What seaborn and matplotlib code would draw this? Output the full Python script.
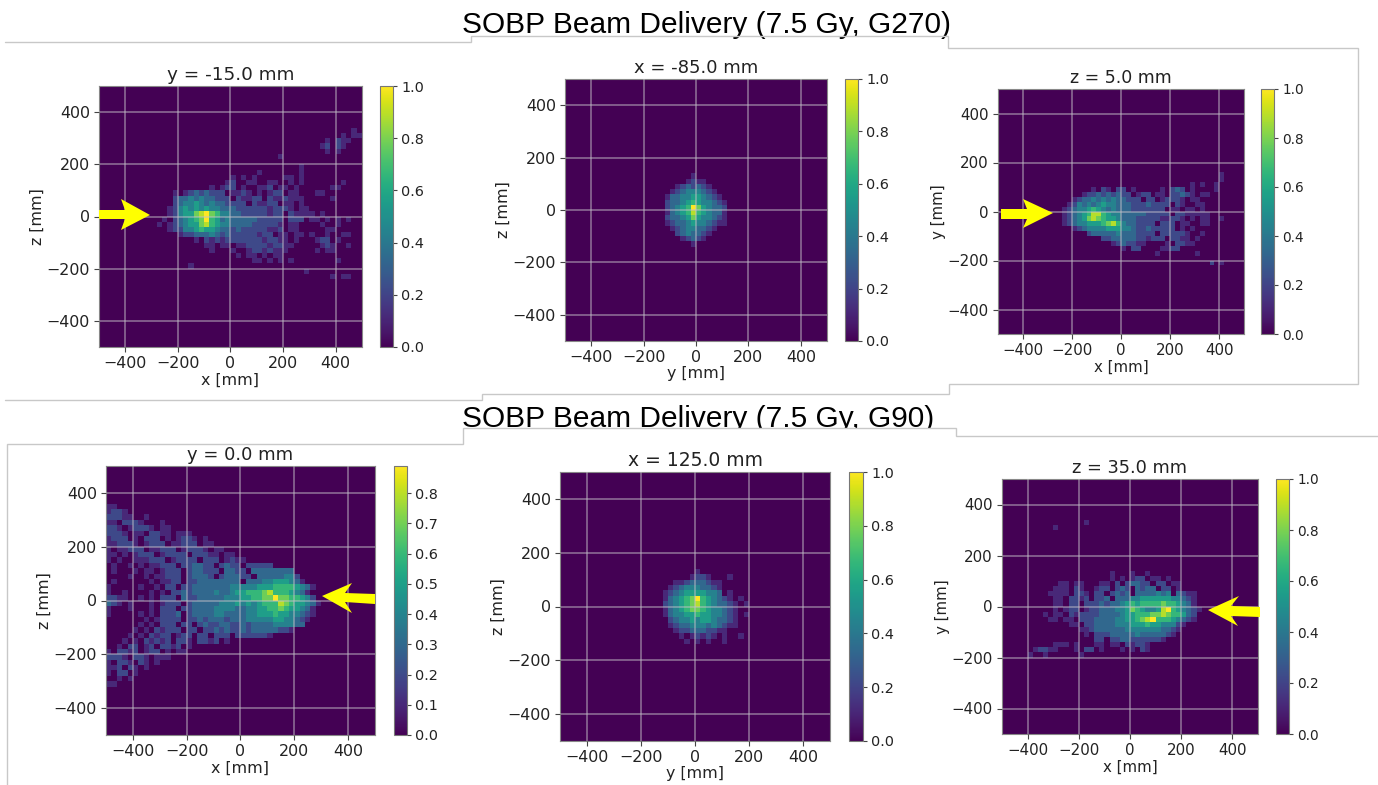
#!/usr/bin/env python3
import matplotlib
matplotlib.use("Agg")
import matplotlib.pyplot as plt
import numpy as np
import seaborn as sns
from matplotlib.patches import Polygon, Rectangle

W, H = 1378, 785
TICKS = [-400, -200, 0, 200, 400]
N_BINS = 50

# each row is one band of 20 mm from the top row downward, digit 0-9 is dose / 9, '.' is none
G270_Y_TOP = 8
G270_Y = [
    "................................................1",
    "..............................................1.11",
    "...........................................1.211",
    "..........................................12.21",
    "...........................................1.1",
    "..................................1",
    "",
    "......................................1",
    "..............................1.......1",
    ".........................1.1.1.....11.1",
    "........................12..11..11..1.1.......1",
    ".....................1.122.1..112.11.1......11",
    "..............1.12323222.1121.1.122.11...11",
    "..............23343433222.21122.2112111.....1",
    "..............23445434332222.21122.11.1",
    ".............124545454433322222212221.11",
    ".............1245578976443322222122.21111.1",
    "............1.234567965343333322222.222.11.1.1.1",
    "...........1.1234557865443333222221.11....1..1",
    ".............1224456554332322222112.11.....11",
    "...............122333432322222122.11.11.1..1..11",
    "..................1.2121222222212211.1...122.1",
    "....................11.11.11222212211.....121..1",
    ".....................1...1..12212111.....1.11",
    "..........................1.11.1.11",
    ".............................11.1.1.1........1",
    ".................1",
    ".......................................1",
    "............................................1.11",
]

G270_X_TOP = 18
G270_X = [
    "........................1",
    ".......................1211",
    ".....................1232321",
    "....................123444321",
    "...................13344554321",
    "...................233456544321",
    "...................234569754332",
    "...................134568654331",
    "...................233457544321",
    "...................123345443211",
    "....................123443321",
    ".....................2343321",
    "......................12321",
    "........................1",
]

G270_Z_TOP = 17
G270_Z = [
    ".............................................1",
    ".............................................1",
    ".......................................1.1..1",
    "...................1.21.22.1.....1.232.1....1",
    ".................1223232322.122.11.22321.11",
    "...............12334343433222.22.12221.11",
    "..............124343454433322232222.21..11",
    ".............123445654343332222222.11.11.1",
    ".............1234568865443333322222.2211111",
    ".............1234578765543332222211221.1.11..1",
    ".............1234455567864332222.222.11..11",
    "...............123444455544322322222.1.1",
    "..................23333343332222.222221..1",
    ".....................2233333221222.2211.1",
    ".......................1232211....1.2211",
    ".........................1.22....1122",
    "................................1.......1",
    "",
    "...........................................2.1",
]

G90_Y_TOP = 7
G90_Y = [
    "11",
    "1221",
    "22211..1",
    "11.2221...1",
    "221.12221.11",
    "2221.11.2211.111",
    "1222.1.222.1.1221.1",
    "112221.1222.11222.11",
    "1.11222.11222.12221.11",
    "11.1.1222.12222.22211.11",
    "1.1..111222.12222.222.1211",
    ".1..1.1.11222.223322.2322.22222",
    ".1...1.11.1222.233222.3322.33333333",
    "....1..1.11222.23332.233322.33333442",
    ".1......1.1122.2233333333.33344555431",
    "1.....1..1.22.2233333334444455566665431",
    "1..1....1.1.22323333433455666786665431",
    "2211..1.1.222.3223333344455667797766542",
    "321.1...1.1222.2333334445454566687655431",
    "1...1...1.222.2233334444334455667655431",
    "1.....1.1.2223.233334433334455565544321",
    ".......1.12222.22323332333444445544321",
    "......1.1.222.22.23223322323333444433",
    ".....1.1.21222.22.22323223233333221",
    "....1.1.2122.122.22.222.2222221",
    "...1.1.21212.221.2212.1",
    "..1.22.12.2212.1",
    "1.2212.122.1.11",
    "2221.221.111",
    "1.221.21.1",
    "112.21.1",
    "1.22.1",
    "..1.1",
    "11",
]

G90_X_TOP = 18
G90_X = [
    ".........................1",
    "........................1221...1",
    ".....................112333211",
    "....................1234443321",
    "...................12345555443.1",
    "...................1345679654321.1",
    "...................23456786543321.1",
    "...................13456776544321",
    "...................13445565544321.1",
    "....................2344545543321",
    "....................1233444343211",
    ".....................1223332211",
    "......................1.12121.1..1",
    ".......................1.1.1..1",
]

G90_Z_TOP = 8
G90_Z = [
    "................1",
    "..........1",
    "", "", "", "", "", "", "", "",
    ".....................1...1..1",
    ".....................1.1.122.11.1",
    "...........11.11...11.2.23322.22.11",
    "..........111.21..122.232.3233.22.1",
    ".........1111.221.22.2323.3333434.3211",
    "..........11.2212.223.3334455555544321",
    "..........11.22.2223233456566667665431",
    "..........1.122.12233344576544589654321",
    "........1.11.2122223333455666778766532",
    ".........11.11.22233334455678966654321",
    ".............11.22333344455565544421",
    "...............11233333344444443321",
    "................1.2223333343333321",
    "..................22.22332222221",
    "..........111.1...11.11.21221",
    "......12211...1.22.1...1.1.21",
    ".....1..1......1",
]

PANEL_TITLES = ["y = -15.0 mm", "x = -85.0 mm", "z = 5.0 mm", "y = 0.0 mm", "x = 125.0 mm", "z = 35.0 mm"]
X_LABELS = ["x [mm]", "y [mm]", "x [mm]", "x [mm]", "y [mm]", "x [mm]"]
Y_LABELS = ["z [mm]", "z [mm]", "y [mm]", "z [mm]", "z [mm]", "y [mm]"]
V_MAX = [1.0, 1.0, 1.0, 0.89, 1.0, 1.0]
CBAR_TICKS = [
    [0, 0.2, 0.4, 0.6, 0.8, 1.0],
    [0, 0.2, 0.4, 0.6, 0.8, 1.0],
    [0, 0.2, 0.4, 0.6, 0.8, 1.0],
    [0, 0.1, 0.2, 0.3, 0.4, 0.5, 0.6, 0.7, 0.8],
    [0, 0.2, 0.4, 0.6, 0.8, 1.0],
    [0, 0.2, 0.4, 0.6, 0.8, 1.0],
]
GRIDS = [(G270_Y, G270_Y_TOP), (G270_X, G270_X_TOP), (G270_Z, G270_Z_TOP),
         (G90_Y, G90_Y_TOP), (G90_X, G90_X_TOP), (G90_Z, G90_Z_TOP)]

# left, top, right, bottom of the image and left, right of the colour bar, in pixels
BOXES = [
    (99, 86, 362, 347, 380, 393),
    (565, 79, 827, 341, 845, 858),
    (998, 89, 1244, 334, 1261, 1274),
    (106, 466, 375, 735, 394, 407),
    (560, 472, 830, 741, 849, 863),
    (1002, 479, 1258, 734, 1276, 1289),
]
FONT_SIZES = [11.4, 11.4, 10.8, 11.4, 11.4, 10.8]
TITLE_SIZES = [13.2, 13.0, 12.5, 13.0, 13.5, 12.8]

BORDERS = [
    [(5, 42), (471, 42), (471, 36), (948, 36), (948, 48), (1358, 48), (1358, 384), (949, 384), (949, 394), (482, 394), (482, 400), (5, 400)],
    [(7, 785), (7, 444), (463, 444), (463, 428), (956, 428), (956, 436), (1378, 436)],
]
ARROWS = [
    [(99, 210), (125, 210), (121, 199), (150, 215), (121, 230), (125, 219), (99, 219)],
    [(1001, 209), (1027, 209), (1023, 199), (1053, 213), (1023, 228), (1027, 219), (1001, 219)],
    [(322, 596), (352, 583), (345, 593), (375, 594), (375, 604), (345, 602), (352, 613)],
    [(1208, 610), (1239, 596), (1231, 606), (1260, 607), (1260, 617), (1231, 616), (1238, 626)],
]


def build_grid(rows, top):
    grid = np.zeros((N_BINS, N_BINS))
    for i, row in enumerate(rows):
        for j, ch in enumerate(row):
            if ch != ".":
                grid[top + i, j] = int(ch) / 9.0
    return grid


def draw_panel(fig, idx):
    left, top, right, bottom, c_left, c_right = BOXES[idx]
    fs = FONT_SIZES[idx]
    ax = fig.add_axes([left / W, 1 - bottom / H, (right - left) / W, (bottom - top) / H])
    cax = fig.add_axes([c_left / W, 1 - bottom / H, (c_right - c_left) / W, (bottom - top) / H])
    rows, row_top = GRIDS[idx]
    data = build_grid(rows, row_top) * V_MAX[idx]
    sns.heatmap(data, ax=ax, cbar_ax=cax, cmap="viridis", vmin=0, vmax=V_MAX[idx],
                xticklabels=False, yticklabels=False, cbar_kws={"ticks": CBAR_TICKS[idx]})
    tick_labels = [str(t).replace("-", "\u2212") for t in TICKS]
    ax.set_xticks([(t + 500) / 1000 * N_BINS for t in TICKS], tick_labels)
    ax.set_yticks([(500 - t) / 1000 * N_BINS for t in TICKS], tick_labels, rotation=0)
    ax.tick_params(labelsize=fs, length=3.5, width=0.8, color="#444444", pad=3)
    ax.set_axisbelow(False)
    ax.grid(True, color="#c4c0c8", linewidth=1.1, alpha=0.6)
    ax.set_xlabel(X_LABELS[idx], fontsize=fs, labelpad=1)
    ax.set_ylabel(Y_LABELS[idx], fontsize=fs, labelpad=1)
    ax.set_title(PANEL_TITLES[idx], fontsize=TITLE_SIZES[idx], pad=4)
    for side in ax.spines.values():
        side.set_visible(True)
        side.set_color("#888888")
        side.set_linewidth(0.8)
    cax.tick_params(labelsize=fs - 1, length=3, width=0.8, color="#444444", pad=3)
    cbar = ax.collections[0].colorbar
    cbar.outline.set_visible(True)
    cbar.outline.set_edgecolor("#777777")
    cbar.outline.set_linewidth(0.8)


def main():
    sns.set_theme(style="ticks")
    plt.rcParams["font.family"] = ["DejaVu Sans"]
    plt.rcParams["text.color"] = "#222222"
    plt.rcParams["axes.labelcolor"] = "#222222"
    plt.rcParams["xtick.labelcolor"] = "#222222"
    plt.rcParams["ytick.labelcolor"] = "#222222"

    fig = plt.figure(figsize=(W / 100, H / 100), dpi=100, facecolor="white")
    for idx in range(6):
        draw_panel(fig, idx)

    # screenshot edges, headings and beam arrows sit on a full-figure layer in pixel units
    over = fig.add_axes([0, 0, 1, 1], zorder=5)
    over.set_xlim(0, W)
    over.set_ylim(H, 0)
    over.axis("off")
    over.text(706, 33, "SOBP Beam Delivery (7.5 Gy, G270)", ha="center", va="baseline",
              fontsize=21.5, family="Liberation Sans", color="black", zorder=1)
    over.text(698, 427, "SOBP Beam Delivery (7.5 Gy, G90)", ha="center", va="baseline",
              fontsize=21.5, family="Liberation Sans", color="black", zorder=1)
    over.add_patch(Rectangle((463, 428), 493, 14, facecolor="white", edgecolor="none", zorder=2))
    for line in BORDERS:
        xs, ys = zip(*line)
        over.plot(xs, ys, color="#c8c8c8", linewidth=1.0, zorder=3, solid_joinstyle="miter")
    for pts in ARROWS:
        over.add_patch(Polygon(pts, closed=True, facecolor="#ffff00", edgecolor="none", zorder=4))

    fig.savefig("out.png", dpi=100)


if __name__ == "__main__":
    main()
